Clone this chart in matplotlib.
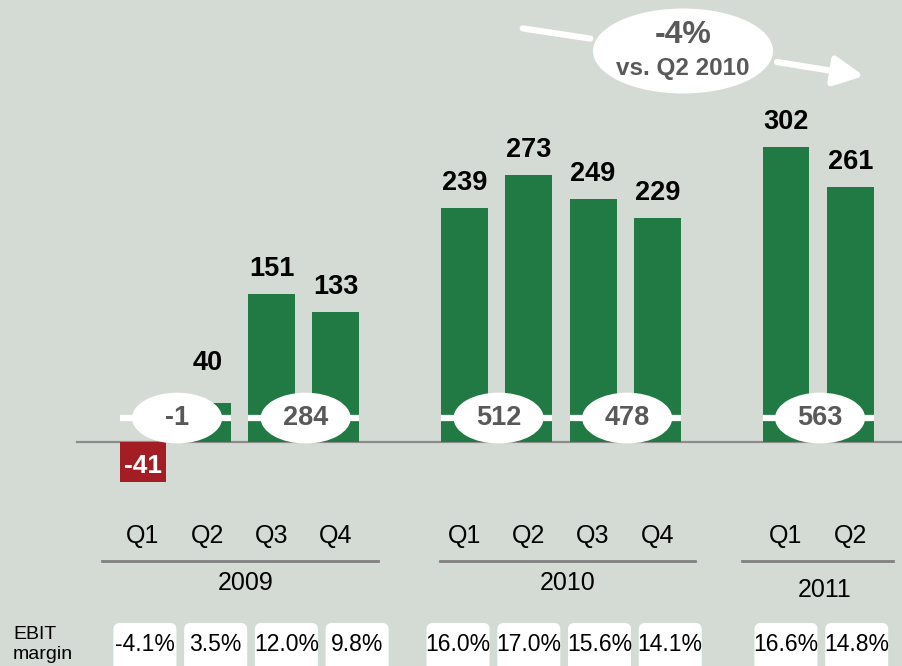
import matplotlib
matplotlib.use("Agg")
import matplotlib.pyplot as plt
from matplotlib.patches import Ellipse, FancyBboxPatch
from matplotlib.transforms import IdentityTransform

plt.rcParams["font.family"] = ["Liberation Sans", "DejaVu Sans"]

# data
quarters = ["Q1", "Q2", "Q3", "Q4", "Q1", "Q2", "Q3", "Q4", "Q1", "Q2"]
years = ["2009", "2010", "2011"]
year_sizes = [4, 4, 2]
ebit = [-41, 40, 151, 133, 239, 273, 249, 229, 302, 261]
margins = ["-4.1%", "3.5%", "12.0%", "9.8%", "16.0%", "17.0%", "15.6%", "14.1%", "16.6%", "14.8%"]
change_text = "-4%"
change_sub = "vs. Q2 2010"

BG = "#d4dbd4"
GREEN = "#217a43"
RED = "#a31d24"
GREY = "#595959"

fig = plt.figure(figsize=(9.03, 6.66), dpi=100, facecolor=BG)
ax = fig.add_axes([0, 0, 1, 1])
ax.set_facecolor(BG)
ax.set_xlim(-2.224, 11.82)
ax.set_ylim(-229, 452)
ax.axis("off")

# x positions: gap of one slot between years
xs = []
pos = 0
for n in year_sizes:
    xs += [pos + i for i in range(n)]
    pos += n + 1
w = 0.73

colors = [RED if v < 0 else GREEN for v in ebit]
ax.bar(xs, ebit, width=w, color=colors, zorder=2)
ax.plot([-1.03, 11.82], [0, 0], color="#8c8c8c", lw=1.6, zorder=1)

for x, v in zip(xs, ebit):
    if v < 0:
        ax.text(x, v / 2 - 4, str(v), ha="center", va="center", color="white",
                fontsize=19, fontweight="bold", zorder=3)
    else:
        ax.annotate(str(v), (x, max(v, 55)), xytext=(0, 18), textcoords="offset points",
                    ha="center", va="center", fontsize=19.5, fontweight="bold", zorder=3)

# half-year totals in ellipses
hy = 24.5
for k in range(0, len(ebit), 2):
    x0, x1 = xs[k], xs[k + 1]
    total = ebit[k] + ebit[k + 1]
    ax.plot([x0 - w / 2, x1 + w / 2], [hy, hy], color="white", lw=4.5,
            solid_capstyle="butt", zorder=4)
    ax.add_patch(Ellipse(((x0 + x1) / 2 + 0.03, hy), 1.4, 52, facecolor="white",
                         edgecolor="none", zorder=5))
    ax.text((x0 + x1) / 2 + 0.03, hy, str(total), ha="center", va="center", color=GREY,
            fontsize=19.5, fontweight="bold", zorder=6)

# quarter and year labels
for x, q in zip(xs, quarters):
    ax.text(x, -96, q, ha="center", va="center", fontsize=18)

line_pad = [(0.64, 0.65), (0.38, 0.58), (0.68, 0.66)]
start = 0
aspect = (64.3 / 0.978)
for gi, (yr, n) in enumerate(zip(years, year_sizes)):
    gx = xs[start:start + n]
    c = (gx[0] + gx[-1]) / 2
    ax.plot([gx[0] - line_pad[gi][0], gx[-1] + line_pad[gi][1]], [-121.7, -121.7],
            color="#808080", lw=2)
    ax.text(c + 0.1, -151 if gi == 2 else -144, yr, ha="center", va="center", fontsize=18)
    for i in range(n):
        bx = c + (0.18 if gi == 0 else 0.05) + (i - (n - 1) / 2) * 1.1
        ax.add_patch(FancyBboxPatch((bx - 0.49, -260), 0.98, 75,
                                    boxstyle="round,pad=0,rounding_size=0.1",
                                    mutation_aspect=aspect, facecolor="white",
                                    edgecolor="none", zorder=2))
        ax.text(bx, -207, margins[start + i], ha="center", va="center",
                fontsize=16.5, zorder=3)
    start += n

ax.text(-2.02, -197, "EBIT", ha="left", va="center", fontsize=14)
ax.text(-2.02, -217, "margin", ha="left", va="center", fontsize=14)

# growth callout at the top (figure pixels)
H = 666
ax.annotate("", xy=(593, H - 39), xytext=(520, H - 28), xycoords="figure pixels",
            textcoords="figure pixels",
            arrowprops=dict(arrowstyle="-", color="white", lw=4.5))
ax.annotate("", xy=(864, H - 76), xytext=(777, H - 62), xycoords="figure pixels",
            textcoords="figure pixels",
            arrowprops=dict(arrowstyle="-|>,head_length=0.9,head_width=0.45",
                            color="white", lw=4.5, mutation_scale=20,
                            shrinkA=0, shrinkB=0))
fig.add_artist(Ellipse((683, H - 51), 180, 85, transform=IdentityTransform(),
                       facecolor="white", edgecolor="none", zorder=5))
fig.text(683, H - 35, change_text, transform=IdentityTransform(), ha="center",
         va="center", fontsize=23, fontweight="bold", color=GREY, zorder=6)
fig.text(683, H - 69, change_sub, transform=IdentityTransform(), ha="center",
         va="center", fontsize=17.5, fontweight="bold", color=GREY, zorder=6)

fig.savefig("out.png", dpi=100, facecolor=BG)
